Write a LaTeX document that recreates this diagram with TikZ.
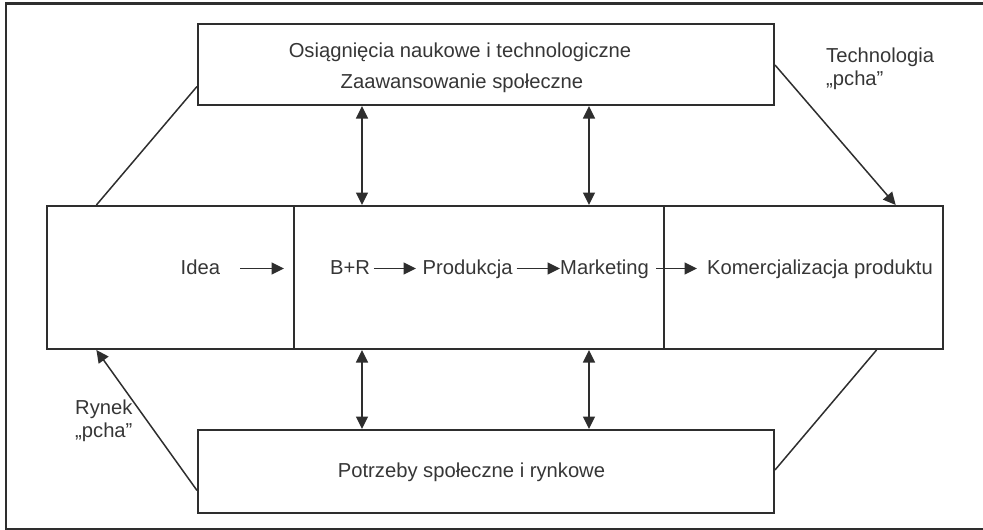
\documentclass[tikz,border=0pt]{standalone}
\usepackage{fontspec}
\setmainfont{Liberation Sans}
\usetikzlibrary{arrows.meta,calc}
\definecolor{ink}{HTML}{2E2E2E}
\definecolor{txt}{HTML}{363636}

\begin{document}
\begin{tikzpicture}[x=1pt,y=-1pt,
  box/.style={draw=ink, line width=2pt, inner sep=0pt, fill=white},
  lbl/.style={text=txt, inner sep=0pt, font=\fontsize{20.2}{23}\selectfont},
  rowlbl/.style={lbl, anchor=base west, text height=15pt, text depth=4pt},
  arr/.style={draw=ink, line width=1.5pt, -{Triangle[length=12.5pt,width=12pt]}},
  dbl/.style={draw=ink, line width=1.5pt, {Triangle[length=12.5pt,width=12pt]}-{Triangle[length=12.5pt,width=12pt]}},
  link/.style={draw=ink, line width=1.5pt}]
  \useasboundingbox (0,0) rectangle (983,530);

  % outer frame (open on the right)
  \draw[ink, line width=2.5pt] (990,3.5) -- (6,3.5) -- (6,529) -- (990,529);

  % boxes
  \node[box, minimum width=576pt, minimum height=81pt] (top) at (486,64.5) {};
  \node[box, minimum width=247pt, minimum height=143pt] (lbox) at (170.5,277.5) {};
  \node[box, minimum width=370pt, minimum height=143pt] (mbox) at (479,277.5) {};
  \node[box, minimum width=279pt, minimum height=143pt] (rbox) at (803.5,277.5) {};
  \node[box, minimum width=576pt, minimum height=83pt] (bot) at (486,471.5) {};

  % box texts
  \node[lbl, anchor=base] (t1) at (460,57) {Osiągnięcia naukowe i technologiczne};
  \node[lbl, anchor=base] (t2) at (462,88) {Zaawansowanie społeczne};
  \node[lbl, anchor=base] (b1) at (471.5,477) {Potrzeby społeczne i rynkowe};

  % side labels
  \node[lbl, anchor=base west, align=left] (tech) at (826,85) {Technologia\\„pcha”};
  \node[lbl, anchor=base west, align=left] (rynek) at (75,437) {Rynek\\„pcha”};

  % process row
  \node[rowlbl] (idea) at (180.5,274) {Idea};
  \node[rowlbl] (br) at (330,274) {B+R};
  \node[rowlbl] (prod) at (422.5,274) {Produkcja};
  \node[rowlbl] (mark) at (560,274) {Marketing};
  \node[rowlbl] (kom) at (707,274) {Komercjalizacja produktu};

  \draw[arr, shorten <=20pt, shorten >=11pt] (idea.east) -- (idea.east -| lbox.east);
  \draw[arr, shorten <=3.5pt, shorten >=6.5pt] (br.east) -- (prod.west);
  \draw[arr, shorten <=4pt] (prod.east) -- (mark.west);
  \draw[arr, shorten <=7pt, shorten >=10pt] (mark.east) -- (kom.west);

  % vertical two-way links
  \coordinate (ca) at (362,0);
  \coordinate (cb) at (589,0);
  \draw[dbl] (ca |- top.south) -- (ca |- mbox.north);
  \draw[dbl] (cb |- top.south) -- (cb |- mbox.north);
  \draw[dbl] (ca |- mbox.south) -- (ca |- bot.north);
  \draw[dbl] (cb |- mbox.south) -- (cb |- bot.north);

  % diagonal links
  \draw[link] ($(top.north west)!0.765!(top.south west)$) -- ($(lbox.north west)!0.2024!(lbox.north east)$);
  \draw[arr] ($(top.north east)!0.506!(top.south east)$) -- ($(rbox.north west)!0.828!(rbox.north east)$);
  \draw[arr] ($(bot.north west)!0.723!(bot.south west)$) -- ($(lbox.south west)!0.2024!(lbox.south east)$);
  \draw[link] ($(rbox.south west)!0.760!(rbox.south east)$) -- ($(bot.north east)!0.482!(bot.south east)$);
\end{tikzpicture}
\end{document}
